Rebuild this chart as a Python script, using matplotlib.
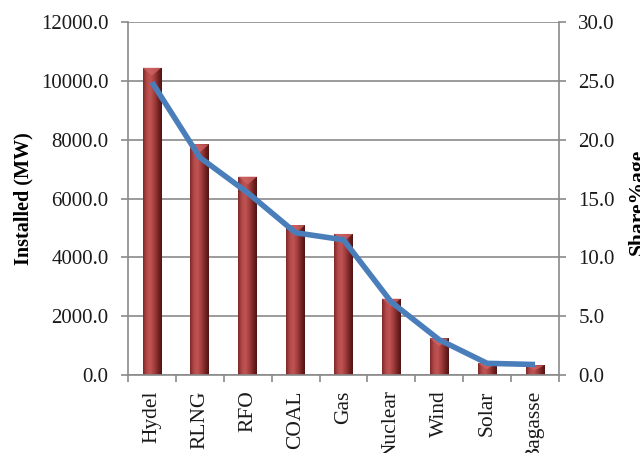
import numpy as np
import matplotlib
matplotlib.use("Agg")
import matplotlib.pyplot as plt
from matplotlib.colors import LinearSegmentedColormap
from matplotlib.patches import Polygon
from matplotlib.ticker import FormatStrFormatter, FixedLocator

plt.rcParams["font.family"] = ["Liberation Serif", "DejaVu Serif"]

sources = ["Hydel", "RLNG", "RFO", "COAL", "Gas", "Nuclear", "Wind", "Solar", "Bagasse"]
installed_mw = [10450, 7850, 6750, 5100, 4800, 2600, 1250, 400, 330]
share_pct = [24.9, 18.5, 15.5, 12.1, 11.5, 6.2, 3.0, 1.0, 0.9]

BAR_W = 0.39
GRID_C = "#8a8a8a"
LINE_C = "#4a7ebb"
TXT_C = "#1a1a1a"

# shading across the width of each column
shade = LinearSegmentedColormap.from_list(
    "col", ["#7c2828", "#b54a4a", "#c05454", "#a43e3e", "#7a2525", "#4e1414"])
grad = np.linspace(0, 1, 64).reshape(1, -1)

fig = plt.figure(figsize=(6.4, 4.53), dpi=100)
ax = fig.add_axes([0.2, 0.172, 0.6734, 0.779])

x = np.arange(len(sources))
bars = ax.bar(x, installed_mw, width=BAR_W, color="none", edgecolor="none", zorder=2)
cap = 270  # depth of the pyramid cap in MW units
for b in bars:
    x0, w, h = b.get_x(), b.get_width(), b.get_height()
    im = ax.imshow(grad, cmap=shade, aspect="auto", extent=[x0, x0 + w, 0, h],
                   zorder=2, interpolation="bilinear")
    im.set_clip_path(b)
    d = min(cap, h * 0.5)
    ax.add_patch(Polygon([[x0, h], [x0 + w, h], [x0 + w / 2, h - d]], closed=True,
                         facecolor="#cf6464", edgecolor="none", alpha=0.75, zorder=3))

ax.set_xlim(-0.5, len(sources) - 0.5)
ax.set_ylim(0, 12000)
ax.set_yticks(np.arange(0, 12001, 2000))
ax.yaxis.set_major_formatter(FormatStrFormatter("%.1f"))
ax.yaxis.grid(True, color=GRID_C, lw=1.2, zorder=0)
ax.set_axisbelow(True)

ax.set_xticks(x)
ax.set_xticklabels(sources, rotation=90, ha="center", va="top")
ax.xaxis.set_minor_locator(FixedLocator(np.arange(-0.5, len(sources), 1)))
ax.tick_params(axis="x", which="major", length=0, pad=11, labelsize=15.5, labelcolor=TXT_C)
ax.tick_params(axis="x", which="minor", length=5, width=1.2, color=GRID_C, direction="out")
ax.tick_params(axis="y", length=5, width=1.2, color=GRID_C, pad=9, labelsize=15,
               labelcolor=TXT_C)

for side in ["left", "bottom"]:
    ax.spines[side].set_color(GRID_C)
    ax.spines[side].set_linewidth(1.2)
ax.spines["top"].set_visible(False)
ax.spines["right"].set_visible(False)

ax.set_ylabel("Installed (MW)", fontsize=14.5, fontweight="bold")
ax.yaxis.set_label_coords(-0.22, 0.5)

# share line on the secondary axis
ax2 = ax.twinx()
ax2.plot(x, share_pct, color=LINE_C, lw=4.0, solid_capstyle="butt",
         solid_joinstyle="round", zorder=4)
ax2.set_ylim(0, 30)
ax2.set_yticks(np.arange(0, 30.1, 5))
ax2.yaxis.set_major_formatter(FormatStrFormatter("%.1f"))
ax2.tick_params(axis="y", length=5, width=1.2, color=GRID_C, pad=9, labelsize=15,
                labelcolor=TXT_C)
ax2.spines["right"].set_color(GRID_C)
ax2.spines["right"].set_linewidth(1.2)
for side in ["left", "top", "bottom"]:
    ax2.spines[side].set_visible(False)

fig.text(628 / 640, 1 - 202 / 453, "Share%age", rotation=90, ha="left", va="center",
         fontsize=15.5, fontweight="bold")

fig.savefig("out.png", dpi=100, facecolor="white")
